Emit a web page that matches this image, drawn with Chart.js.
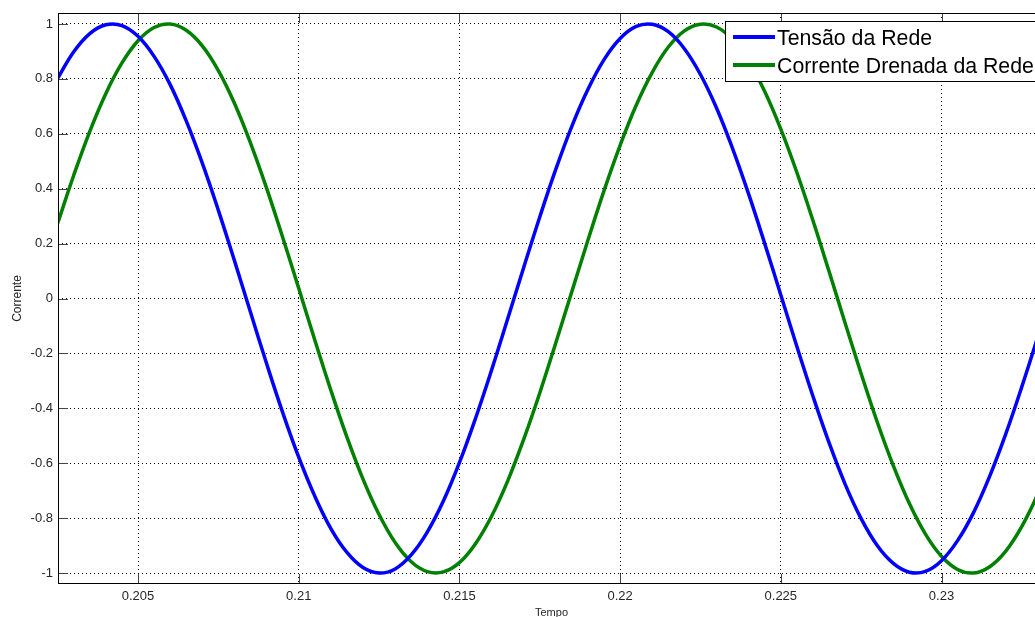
<!DOCTYPE html>
<html>
<head>
<meta charset="utf-8">
<script src="https://cdn.jsdelivr.net/npm/chart.js@4.4.1/dist/chart.umd.min.js"></script>
<style>
    html, body { margin: 0; padding: 0; background: #fff; overflow: hidden; }
    #wrap { width: 1045px; height: 617px; }
</style>
</head>
<body>
<div id="wrap"><canvas id="plot" width="1045" height="617"></canvas></div>
<script>
// waveform samples (time in s)
const tempo = [
    0.2025, 0.2030, 0.2035, 0.2040, 0.2045, 0.2050, 0.2055, 0.2060, 0.2065, 0.2070,
    0.2075, 0.2080, 0.2085, 0.2090, 0.2095, 0.2100, 0.2105, 0.2110, 0.2115, 0.2120,
    0.2125, 0.2130, 0.2135, 0.2140, 0.2145, 0.2150, 0.2155, 0.2160, 0.2165, 0.2170,
    0.2175, 0.2180, 0.2185, 0.2190, 0.2195, 0.2200, 0.2205, 0.2210, 0.2215, 0.2220,
    0.2225, 0.2230, 0.2235, 0.2240, 0.2245, 0.2250, 0.2255, 0.2260, 0.2265, 0.2270,
    0.2275, 0.2280, 0.2285, 0.2290, 0.2295, 0.2300, 0.2305, 0.2310, 0.2315, 0.2320,
    0.2325, 0.2330, 0.2335
];

const tensaoRede = [
    0.802, 0.899, 0.965, 0.997, 0.994, 0.955, 0.882, 0.779, 0.647, 0.493,
    0.321, 0.138, -0.050, -0.237, -0.415, -0.578, -0.720, -0.838, -0.925, -0.980,
    -1.000, -0.985, -0.934, -0.851, -0.738, -0.598, -0.437, -0.261, -0.075, 0.113,
    0.297, 0.471, 0.628, 0.762, 0.870, 0.947, 0.991, 0.999, 0.972, 0.910,
    0.816, 0.694, 0.546, 0.380, 0.200, 0.013, -0.175, -0.356, -0.525, -0.676,
    -0.802, -0.900, -0.965, -0.997, -0.994, -0.955, -0.882, -0.779, -0.647, -0.493,
    -0.321, -0.138, 0.050
];

const correnteRede = [
    0.274, 0.449, 0.609, 0.747, 0.858, 0.939, 0.987, 1.000, 0.977, 0.920,
    0.830, 0.711, 0.566, 0.402, 0.223, 0.037, -0.151, -0.334, -0.505, -0.658,
    -0.787, -0.889, -0.959, -0.995, -0.996, -0.962, -0.893, -0.793, -0.665, -0.513,
    -0.344, -0.161, 0.026, 0.213, 0.393, 0.558, 0.704, 0.824, 0.916, 0.975,
    0.999, 0.989, 0.943, 0.863, 0.754, 0.617, 0.459, 0.284, 0.099, -0.089,
    -0.274, -0.450, -0.609, -0.747, -0.858, -0.939, -0.987, -1.000, -0.977, -0.920,
    -0.830, -0.711, -0.566
];

const xTicks = [0.205, 0.21, 0.215, 0.22, 0.225, 0.23];
const xTickLabels = ['0.205', '0.21', '0.215', '0.22', '0.225', '0.23'];
const yTicks = [-1, -0.8, -0.6, -0.4, -0.2, 0, 0.2, 0.4, 0.6, 0.8, 1];
const yTickLabels = ['-1', '-0.8', '-0.6', '-0.4', '-0.2', '0', '0.2', '0.4', '0.6', '0.8', '1'];

const seriesNames = ['Tensão da Rede', 'Corrente Drenada da Rede'];
const seriesColors = ['rgb(0, 0, 255)', 'rgb(0, 128, 0)'];

const toPoints = (values) => values.map((v, i) => ({ x: tempo[i], y: v }));

// box, inward ticks and the legend drawn matlab-style
const matlabFrame = {
    id: 'matlabFrame',
    afterDraw(chart) {
        const { ctx, chartArea: a, scales } = chart;
        const x = scales.x;
        const y = scales.y;
        ctx.save();

        ctx.strokeStyle = '#444';
        ctx.lineWidth = 1;
        ctx.beginPath();
        x.ticks.forEach(t => {
            const px = Math.round(x.getPixelForValue(t.value)) + 0.5;
            ctx.moveTo(px, a.bottom);
            ctx.lineTo(px, a.bottom - 10);
            ctx.moveTo(px, a.top);
            ctx.lineTo(px, a.top + 10);
        });
        y.ticks.forEach(t => {
            const py = Math.round(y.getPixelForValue(t.value)) + 0.5;
            ctx.moveTo(a.left, py);
            ctx.lineTo(a.left + 10, py);
        });
        ctx.stroke();

        ctx.strokeStyle = '#000';
        ctx.strokeRect(a.left + 0.5, a.top + 0.5, a.right - a.left, a.bottom - a.top - 1);

        // legend box
        const lx = 725, ly = 21, lw = 330, lh = 60;
        ctx.fillStyle = '#fff';
        ctx.fillRect(lx, ly, lw, lh);
        ctx.strokeStyle = '#000';
        ctx.strokeRect(lx + 0.5, ly + 0.5, lw, lh);

        ctx.font = '21.3px "Liberation Sans", Arial, sans-serif';
        ctx.textBaseline = 'middle';
        chart.data.datasets.forEach((ds, i) => {
            const rowY = ly + 16 + i * 28;
            ctx.strokeStyle = ds.borderColor;
            ctx.lineWidth = 4;
            ctx.beginPath();
            ctx.moveTo(733, rowY);
            ctx.lineTo(775, rowY);
            ctx.stroke();
            ctx.fillStyle = '#000';
            ctx.fillText(ds.label, 777, rowY + 2);
        });

        ctx.restore();
    }
};

const tickFont = { family: '"Liberation Sans", Arial, sans-serif', size: 13 };

new Chart(document.getElementById('plot').getContext('2d'), {
    type: 'line',
    data: {
        datasets: [
            {
                label: seriesNames[0],
                data: toPoints(tensaoRede),
                borderColor: seriesColors[0],
                borderWidth: 3.5,
                pointRadius: 0,
                tension: 0.4,
                fill: false
            },
            {
                label: seriesNames[1],
                data: toPoints(correnteRede),
                borderColor: seriesColors[1],
                borderWidth: 3.5,
                pointRadius: 0,
                tension: 0.4,
                fill: false
            }
        ]
    },
    options: {
        responsive: false,
        animation: false,
        devicePixelRatio: 1,
        layout: { padding: { top: 13, left: 0, right: 0, bottom: 0 } },
        plugins: {
            legend: { display: false },
            tooltip: { enabled: false }
        },
        scales: {
            x: {
                type: 'linear',
                min: 0.20251,
                max: 0.23322,
                afterBuildTicks: (scale) => { scale.ticks = xTicks.map(v => ({ value: v })); },
                afterFit: (scale) => { scale.height = 33; },
                ticks: {
                    autoSkip: false,
                    maxRotation: 0,
                    padding: 5,
                    color: '#262626',
                    font: tickFont,
                    callback: (value, index) => xTickLabels[index]
                },
                grid: { color: '#000', lineWidth: 1, drawTicks: false },
                border: { display: false, dash: [1, 3] },
                title: {
                    display: true,
                    text: 'Tempo',
                    color: '#262626',
                    font: { family: tickFont.family, size: 11 },
                    padding: { top: 0, bottom: -3 }
                }
            },
            y: {
                type: 'linear',
                min: -1.04,
                max: 1.04,
                afterBuildTicks: (scale) => { scale.ticks = yTicks.map(v => ({ value: v })); },
                afterFit: (scale) => { scale.width = 58; },
                ticks: {
                    autoSkip: false,
                    padding: 5,
                    color: '#262626',
                    font: tickFont,
                    callback: (value, index) => yTickLabels[index]
                },
                grid: { color: '#000', lineWidth: 1, drawTicks: false },
                border: { display: false, dash: [1, 3] },
                title: {
                    display: true,
                    text: 'Corrente',
                    color: '#262626',
                    font: { family: tickFont.family, size: 12 },
                    padding: { top: 10, bottom: 0 }
                }
            }
        }
    },
    plugins: [matlabFrame]
});
</script>
</body>
</html>
